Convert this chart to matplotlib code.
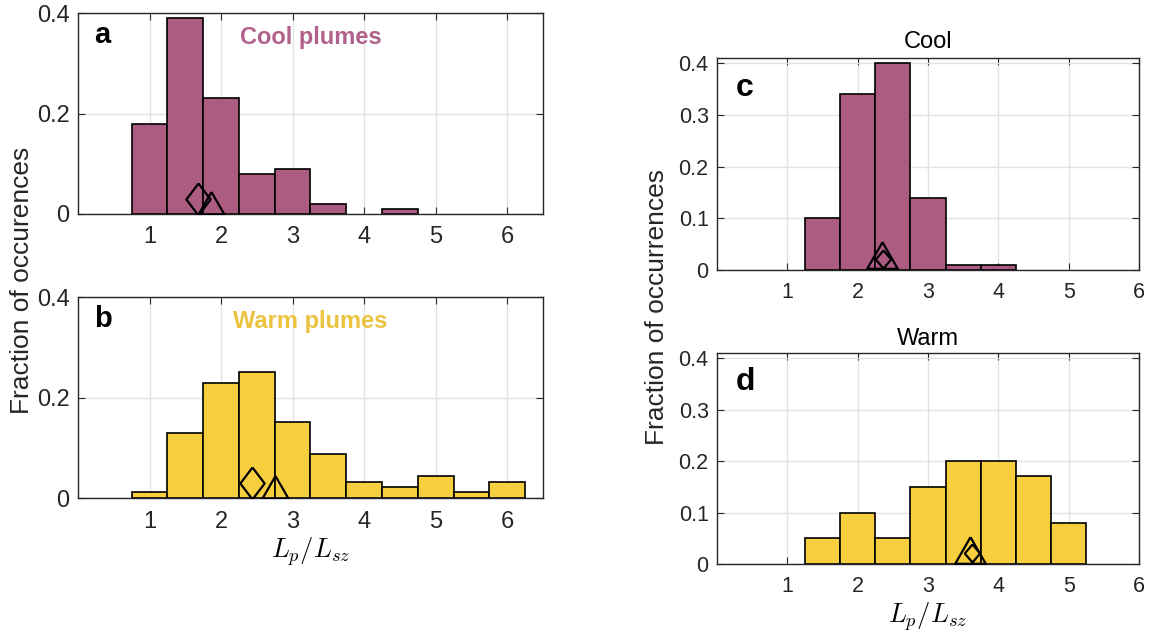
import numpy as np
import matplotlib
matplotlib.use('Agg')
import matplotlib.pyplot as plt

plt.rcParams['font.family'] = ['Liberation Sans', 'DejaVu Sans']
plt.rcParams['mathtext.fontset'] = 'cm'

# Colores
cool_col = '#ab5c80'
warm_col = '#f6ce3e'

# Datos: histogramas (centros de bin, ancho 0.5)
bins_left = [1.0, 1.5, 2.0, 2.5, 3.0, 3.5, 4.0, 4.5, 5.0, 5.5, 6.0]
frac_a = [0.18, 0.39, 0.23, 0.08, 0.09, 0.02, 0.0, 0.01, 0.0, 0.0, 0.0]
frac_b = [0.011, 0.13, 0.228, 0.25, 0.152, 0.087, 0.032, 0.021, 0.043, 0.011, 0.032]

bins_right = [1.5, 2.0, 2.5, 3.0, 3.5, 4.0, 4.5, 5.0]
frac_c = [0.10, 0.34, 0.40, 0.14, 0.01, 0.01, 0.0, 0.0]
frac_d = [0.05, 0.10, 0.05, 0.15, 0.20, 0.20, 0.17, 0.08]

# Marcadores (rombo y triángulo)
diam_a = (1.68, 0.030)
tri_a = (1.86, 0.022)
diam_b = (2.43, 0.029)
tri_b = (2.75, 0.022)
diam_c = (2.36, 0.022)
tri_c = (2.35, 0.029)
diam_d = (3.63, 0.021)
tri_d = (3.60, 0.028)

diamond_l = [(0, 1), (0.76, 0), (0, -1), (-0.76, 0), (0, 1)]
diamond_r = [(0, 1), (0.85, 0), (0, -1), (-0.85, 0), (0, 1)]
triangle = [(0, 1), (1.15, -1), (-1.15, -1), (0, 1)]

fig = plt.figure(figsize=(11.5, 6.32), dpi=100)

ax_a = fig.add_axes([0.0678, 0.6614, 0.4043, 0.318])
ax_b = fig.add_axes([0.0678, 0.2120, 0.4043, 0.318])
ax_c = fig.add_axes([0.6235, 0.5728, 0.3670, 0.3354])
ax_d = fig.add_axes([0.6235, 0.1076, 0.3670, 0.3340])


def style_axes(ax, xlim, ylim, yticks, yticklabels, fs):
    ax.set_xlim(*xlim)
    ax.set_ylim(*ylim)
    ax.set_xticks([1, 2, 3, 4, 5, 6])
    ax.set_yticks(yticks)
    ax.set_yticklabels(yticklabels)
    ax.tick_params(direction='in', length=5, width=0.8, top=True, right=True,
                   labelsize=fs, colors='#262626')
    ax.tick_params(axis='x', pad=9)
    ax.tick_params(axis='y', pad=6)
    ax.grid(True, color='#e3e3e3', linewidth=1.0)
    ax.set_axisbelow(True)
    for s in ax.spines.values():
        s.set_color('#262626')
        s.set_linewidth(1.0)


def draw(ax, centers, vals, color, dpos, tpos, dmark, dsize, tsize):
    lws = [1.2 if v > 0 else 0 for v in vals]
    ax.bar(centers, vals, width=0.5, color=color, edgecolor='black', linewidth=lws, zorder=2)
    ax.plot(*dpos, marker=dmark, markersize=dsize, markerfacecolor='none',
            markeredgecolor='black', markeredgewidth=1.6, zorder=3)
    ax.plot(*tpos, marker=triangle, markersize=tsize, markerfacecolor='none',
            markeredgecolor='black', markeredgewidth=1.6, zorder=3)


draw(ax_a, bins_left, frac_a, cool_col, diam_a, tri_a, diamond_l, 23, 19)
draw(ax_b, bins_left, frac_b, warm_col, diam_b, tri_b, diamond_l, 23, 19)
draw(ax_c, bins_right, frac_c, cool_col, diam_c, tri_c, diamond_r, 13, 22)
draw(ax_d, bins_right, frac_d, warm_col, diam_d, tri_d, diamond_r, 13, 22)

for ax in (ax_a, ax_b):
    style_axes(ax, (0, 6.5), (0, 0.4), [0, 0.2, 0.4], ['0', '0.2', '0.4'], 17)
for ax in (ax_c, ax_d):
    style_axes(ax, (0, 6), (0, 0.41), [0, 0.1, 0.2, 0.3, 0.4],
               ['0', '0.1', '0.2', '0.3', '0.4'], 15.5)

# Letras de panel
ax_a.text(0.035, 0.89, 'a', transform=ax_a.transAxes, fontsize=21, fontweight='bold', va='center')
ax_b.text(0.035, 0.89, 'b', transform=ax_b.transAxes, fontsize=21, fontweight='bold', va='center')
ax_c.text(0.045, 0.86, 'c', transform=ax_c.transAxes, fontsize=23, fontweight='bold', va='center')
ax_d.text(0.045, 0.86, 'd', transform=ax_d.transAxes, fontsize=23, fontweight='bold', va='center')

ax_a.text(0.5, 0.88, 'Cool plumes', transform=ax_a.transAxes, fontsize=17, fontweight='bold',
          color='#b0628a', ha='center', va='center')
ax_b.text(0.5, 0.88, 'Warm plumes', transform=ax_b.transAxes, fontsize=17, fontweight='bold',
          color='#ecc33f', ha='center', va='center')

ax_c.set_title('Cool', fontsize=17, pad=7)
ax_d.set_title('Warm', fontsize=17, pad=6)

ax_b.set_xlabel(r'$L_p/L_{sz}$', fontsize=19, labelpad=2)
ax_d.set_xlabel(r'$L_p/L_{sz}$', fontsize=19, labelpad=2)

fig.text(22 / 1150, 1 - 280 / 632, 'Fraction of occurences', rotation=90,
         fontsize=19, ha='center', va='center', color='#262626')
fig.text(657 / 1150, 1 - 307 / 632, 'Fraction of occurrences', rotation=90,
         fontsize=19, ha='center', va='center', color='#262626')

fig.savefig('out.png', dpi=100)
